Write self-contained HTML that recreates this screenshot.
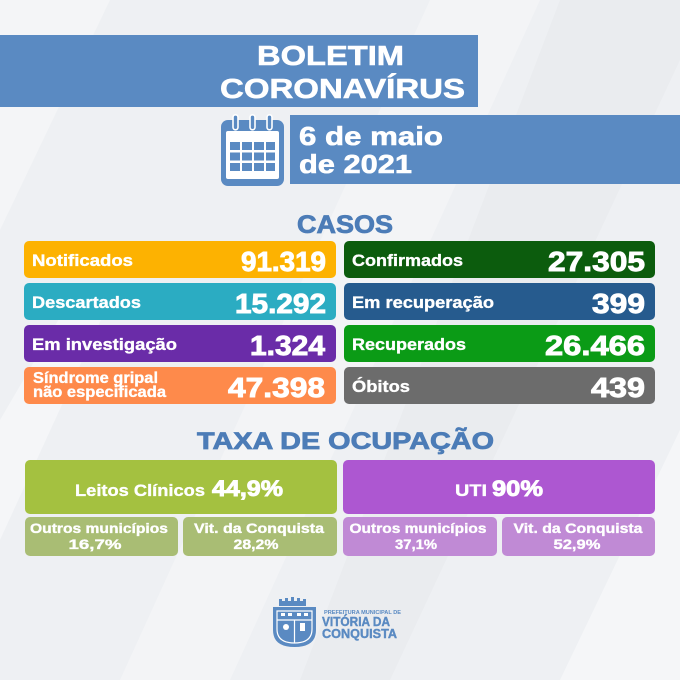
<!DOCTYPE html>
<html>
<head>
<meta charset="utf-8">
<style>
  html,body{margin:0;padding:0;background:#eff0f3;}
  svg{display:block;}
  text{font-family:"Liberation Sans",sans-serif;font-weight:bold;}
  .w{fill:#ffffff;stroke:#ffffff;stroke-width:0.6;}
  .wn{fill:#ffffff;stroke:#ffffff;stroke-width:0.9;}
  .ws{fill:#ffffff;stroke:#ffffff;stroke-width:0.35;}
  .b{fill:#4c7cb7;stroke:#4c7cb7;stroke-width:0.8;}
</style>
</head>
<body>
<svg width="680" height="680" viewBox="0 0 680 680" xmlns="http://www.w3.org/2000/svg">
  <!-- background -->
  <rect x="0" y="0" width="680" height="680" fill="#eef0f3"/>
  <polygon points="0,0 110,0 0,230" fill="#f4f5f7"/>
  <polygon points="430,0 540,0 230,680 120,680" fill="#f3f4f6"/>
  <polygon points="560,0 680,0 680,60 390,680 300,680" fill="#eaecef"/>
  <polygon points="680,430 680,680 560,680" fill="#f5f6f8"/>
  <polygon points="0,420 70,300 110,300 0,540" fill="#f5f6f8"/>

  <!-- header banner -->
  <rect x="0" y="35" width="478" height="72" fill="#5a8ac2"/>
  <text class="w" x="257" y="65" font-size="28" textLength="147" lengthAdjust="spacingAndGlyphs">BOLETIM</text>
  <text class="w" x="220" y="98" font-size="28" textLength="245" lengthAdjust="spacingAndGlyphs">CORONAVÍRUS</text>

  <!-- date band -->
  <rect x="290" y="115" width="390" height="69" fill="#5a8ac2"/>
  <text class="w" x="299" y="145" font-size="26" textLength="144" lengthAdjust="spacingAndGlyphs">6 de maio</text>
  <text class="w" x="299" y="173" font-size="26" textLength="113" lengthAdjust="spacingAndGlyphs">de 2021</text>

  <!-- calendar icon -->
  <g transform="translate(221,114)">
    <rect x="0" y="6" width="63" height="66" rx="7" fill="#5a8ac2"/>
    <rect x="5" y="17" width="53" height="48" rx="2" fill="#ffffff"/>
    <g fill="#5a8ac2">
      <rect x="9" y="28" width="10" height="8"/>
      <rect x="21" y="28" width="10" height="8"/>
      <rect x="33" y="28" width="10" height="8"/>
      <rect x="45" y="28" width="9" height="8"/>
      <rect x="9" y="38.5" width="10" height="8"/>
      <rect x="21" y="38.5" width="10" height="8"/>
      <rect x="33" y="38.5" width="10" height="8"/>
      <rect x="45" y="38.5" width="9" height="8"/>
      <rect x="9" y="49" width="10" height="8"/>
      <rect x="21" y="49" width="10" height="8"/>
      <rect x="33" y="49" width="10" height="8"/>
      <rect x="45" y="49" width="9" height="8"/>
    </g>
    <g fill="#5a8ac2" stroke="#ffffff" stroke-width="1.6">
      <rect x="12" y="0.8" width="5" height="15" rx="2.5"/>
      <rect x="29" y="0.8" width="5" height="15" rx="2.5"/>
      <rect x="46" y="0.8" width="5" height="15" rx="2.5"/>
    </g>
  </g>

  <!-- CASOS -->
  <text class="b" x="297" y="233" font-size="25" textLength="96" lengthAdjust="spacingAndGlyphs">CASOS</text>

  <!-- left column -->
  <rect x="24" y="241" width="312" height="37" rx="5" fill="#fdb201"/>
  <text class="ws" x="32" y="266" font-size="17" textLength="101" lengthAdjust="spacingAndGlyphs">Notificados</text>
  <text class="wn" x="241" y="271" font-size="28" textLength="85" lengthAdjust="spacingAndGlyphs">91.319</text>

  <rect x="24" y="283" width="312" height="37" rx="5" fill="#2bacc2"/>
  <text class="ws" x="32" y="308" font-size="17" textLength="109" lengthAdjust="spacingAndGlyphs">Descartados</text>
  <text class="wn" x="235" y="313" font-size="28" textLength="91" lengthAdjust="spacingAndGlyphs">15.292</text>

  <rect x="24" y="325" width="312" height="37" rx="5" fill="#6a2ca8"/>
  <text class="ws" x="32" y="350" font-size="17" textLength="145" lengthAdjust="spacingAndGlyphs">Em investigação</text>
  <text class="wn" x="250" y="355" font-size="28" textLength="75" lengthAdjust="spacingAndGlyphs">1.324</text>

  <rect x="24" y="367" width="312" height="37" rx="5" fill="#fe8a4b"/>
  <text class="ws" x="33" y="383" font-size="16" textLength="125" lengthAdjust="spacingAndGlyphs">Síndrome gripal</text>
  <text class="ws" x="33" y="397" font-size="16" textLength="133" lengthAdjust="spacingAndGlyphs">não especificada</text>
  <text class="wn" x="228" y="397" font-size="28" textLength="97" lengthAdjust="spacingAndGlyphs">47.398</text>

  <!-- right column -->
  <rect x="344" y="241" width="311" height="37" rx="5" fill="#0c5c0d"/>
  <text class="ws" x="352" y="266" font-size="17" textLength="111" lengthAdjust="spacingAndGlyphs">Confirmados</text>
  <text class="wn" x="548" y="271" font-size="28" textLength="97" lengthAdjust="spacingAndGlyphs">27.305</text>

  <rect x="344" y="283" width="311" height="37" rx="5" fill="#265b8e"/>
  <text class="ws" x="352" y="308" font-size="17" textLength="142" lengthAdjust="spacingAndGlyphs">Em recuperação</text>
  <text class="wn" x="592" y="313" font-size="28" textLength="53" lengthAdjust="spacingAndGlyphs">399</text>

  <rect x="344" y="325" width="311" height="37" rx="5" fill="#0b9b16"/>
  <text class="ws" x="352" y="350" font-size="17" textLength="114" lengthAdjust="spacingAndGlyphs">Recuperados</text>
  <text class="wn" x="545" y="355" font-size="28" textLength="100" lengthAdjust="spacingAndGlyphs">26.466</text>

  <rect x="344" y="367" width="311" height="37" rx="5" fill="#6c6c6c"/>
  <text class="ws" x="352" y="392" font-size="17" textLength="58" lengthAdjust="spacingAndGlyphs">Óbitos</text>
  <text class="wn" x="591" y="397" font-size="28" textLength="54" lengthAdjust="spacingAndGlyphs">439</text>

  <!-- TAXA DE OCUPAÇÃO -->
  <text class="b" x="197" y="449" font-size="24" textLength="297" lengthAdjust="spacingAndGlyphs">TAXA DE OCUPAÇÃO</text>

  <!-- Leitos -->
  <rect x="25" y="460" width="312" height="54" rx="5" fill="#a4c140"/>
  <text class="ws" x="75" y="496" font-size="17" textLength="130" lengthAdjust="spacingAndGlyphs">Leitos Clínicos</text>
  <text class="wn" x="212" y="496" font-size="22" textLength="71" lengthAdjust="spacingAndGlyphs">44,9%</text>

  <rect x="25" y="517" width="153" height="39" rx="5" fill="#a9bd74"/>
  <text class="ws" x="99" y="533" font-size="14" text-anchor="middle" textLength="138" lengthAdjust="spacingAndGlyphs">Outros municípios</text>
  <text class="ws" x="95" y="549" font-size="14" text-anchor="middle" textLength="53" lengthAdjust="spacingAndGlyphs">16,7%</text>

  <rect x="183" y="517" width="154" height="39" rx="5" fill="#a9bd74"/>
  <text class="ws" x="259" y="533" font-size="14" text-anchor="middle" textLength="130" lengthAdjust="spacingAndGlyphs">Vit. da Conquista</text>
  <text class="ws" x="256" y="549" font-size="14" text-anchor="middle" textLength="45" lengthAdjust="spacingAndGlyphs">28,2%</text>

  <!-- UTI -->
  <rect x="343" y="460" width="312" height="54" rx="5" fill="#ad57d1"/>
  <text class="ws" x="455" y="496" font-size="17" textLength="32" lengthAdjust="spacingAndGlyphs">UTI</text>
  <text class="wn" x="492" y="496" font-size="22" textLength="51" lengthAdjust="spacingAndGlyphs">90%</text>

  <rect x="343" y="517" width="154" height="39" rx="5" fill="#c08ad5"/>
  <text class="ws" x="418" y="533" font-size="14" text-anchor="middle" textLength="137" lengthAdjust="spacingAndGlyphs">Outros municípios</text>
  <text class="ws" x="416" y="549" font-size="14" text-anchor="middle" textLength="42" lengthAdjust="spacingAndGlyphs">37,1%</text>

  <rect x="502" y="517" width="153" height="39" rx="5" fill="#c08ad5"/>
  <text class="ws" x="578" y="533" font-size="14" text-anchor="middle" textLength="129" lengthAdjust="spacingAndGlyphs">Vit. da Conquista</text>
  <text class="ws" x="577" y="549" font-size="14" text-anchor="middle" textLength="47" lengthAdjust="spacingAndGlyphs">52,9%</text>

  <!-- logo crest -->
  <g fill="#5a8ac2">
    <path d="M279,606 V599 h3 v2 h3 v-3 h3 v3 h3 v-4 h3 v4 h3 v-3 h3 v3 h3 v-2 h3 v7 Z"/>
    <path d="M273,607 H316 V630 Q316,647 294.5,647 Q273,647 273,630 Z"/>
  </g>
  <g fill="none" stroke="#ffffff" stroke-width="1.2">
    <path d="M277,611 H312 V629 Q312,643 294.5,643 Q277,643 277,629 Z"/>
    <line x1="277" y1="620" x2="312" y2="620"/>
    <line x1="294.5" y1="620" x2="294.5" y2="643"/>
  </g>
  <g fill="#ffffff">
    <rect x="281" y="613" width="4" height="3"/>
    <rect x="288" y="613" width="4" height="3"/>
    <rect x="297" y="613" width="4" height="3"/>
    <rect x="304" y="613" width="4" height="3"/>
    <circle cx="286" cy="627" r="3"/>
    <rect x="300" y="623" width="5" height="8"/>
  </g>
  <text x="324" y="614" font-size="5.5" fill="#5a8ac2" textLength="77" lengthAdjust="spacingAndGlyphs">PREFEITURA MUNICIPAL DE</text>
  <text x="322" y="626" font-size="12.5" fill="#5a8ac2" stroke="#5a8ac2" stroke-width="0.4" textLength="68" lengthAdjust="spacingAndGlyphs">VITÓRIA DA</text>
  <text x="322" y="638" font-size="12.5" fill="#5a8ac2" stroke="#5a8ac2" stroke-width="0.4" textLength="75" lengthAdjust="spacingAndGlyphs">CONQUISTA</text>
</svg>
</body>
</html>
